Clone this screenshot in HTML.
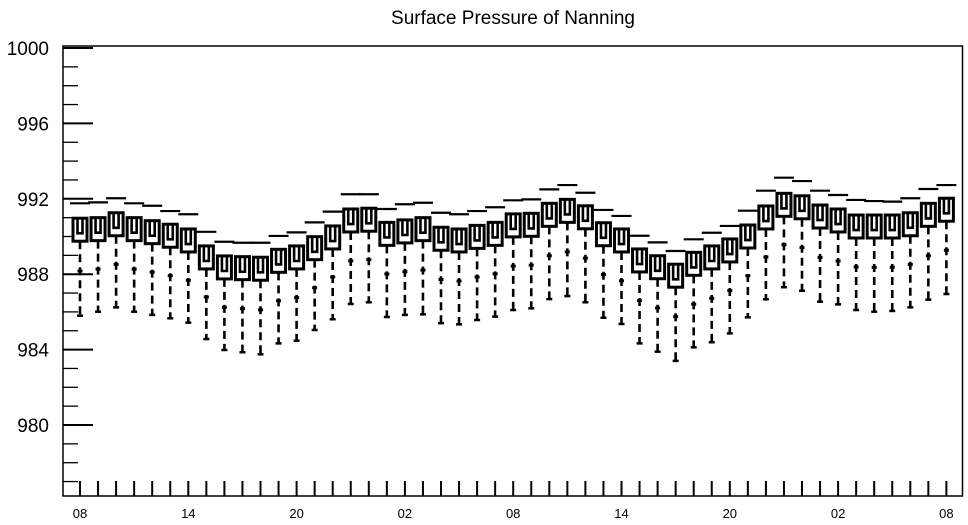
<!DOCTYPE html>
<html><head><meta charset="utf-8"><style>
html,body{margin:0;padding:0;background:#fff;}
svg{display:block;font-family:"Liberation Sans",Arial,sans-serif;}
</style></head><body>
<svg id="chart" width="968" height="525" viewBox="0 0 968 525" xmlns="http://www.w3.org/2000/svg">
<text x="513" y="24" text-anchor="middle" font-size="19">Surface Pressure of Nanning</text>
<g id="axes"></g>
<g id="boxes"></g>
<rect x="63" y="46" width="899.5" height="450" fill="none" stroke="#000" stroke-width="1.5"/>
</svg>
<script>
const hourLabels = ["08","09","10","11","12","13","14","15","16","17","18","19","20","21","22","23","00","01","02","03","04","05","06","07","08","09","10","11","12","13","14","15","16","17","18","19","20","21","22","23","00","01","02","03","04","05","06","07","08"];
const q3Values = [990.97,991.00,991.26,991.00,990.84,990.65,990.40,989.50,988.97,988.93,988.90,989.32,989.50,989.99,990.56,991.46,991.50,990.75,990.88,991.00,990.49,990.40,990.59,990.75,991.20,991.23,991.76,991.97,991.63,990.73,990.40,989.34,988.98,988.53,989.16,989.50,989.87,990.61,991.62,992.29,992.16,991.67,991.46,991.14,991.14,991.14,991.26,991.76,992.03];
const q1Values = [989.75,989.78,990.04,989.78,989.62,989.43,989.18,988.28,987.75,987.71,987.68,988.10,988.28,988.77,989.34,990.24,990.28,989.53,989.66,989.78,989.27,989.18,989.37,989.53,989.98,990.01,990.54,990.75,990.41,989.51,989.18,988.12,987.76,987.31,987.94,988.28,988.65,989.39,990.40,991.07,990.94,990.45,990.24,989.92,989.92,989.92,990.04,990.54,990.81];
const medianValues = [990.17,990.20,990.46,990.20,990.04,989.85,989.60,988.70,988.17,988.13,988.10,988.52,988.70,989.19,989.76,990.66,990.70,989.95,990.08,990.20,989.69,989.60,989.79,989.95,990.40,990.43,990.96,991.17,990.83,989.93,989.60,988.54,988.18,987.73,988.36,988.70,989.07,989.81,990.82,991.49,991.36,990.87,990.66,990.34,990.34,990.34,990.46,990.96,991.23];
const maxValues = [991.76,991.81,992.03,991.76,991.63,991.35,991.18,990.25,989.72,989.67,989.67,990.03,990.22,990.75,991.32,992.24,992.24,991.46,991.71,991.79,991.26,991.18,991.35,991.55,991.92,991.97,992.50,992.73,992.32,991.41,991.09,990.04,989.69,989.23,989.85,990.20,990.56,991.37,992.43,993.12,992.94,992.43,992.20,991.94,991.88,991.85,992.03,992.52,992.73];
const lowMarkValues = [988.17,988.27,988.52,988.27,988.11,987.92,987.68,986.79,986.24,986.17,986.11,986.59,986.76,987.28,987.85,988.71,988.77,988.01,988.13,988.22,987.72,987.64,987.85,988.02,988.43,988.48,988.98,989.19,988.85,987.98,987.65,986.60,986.21,985.75,986.41,986.72,987.13,987.92,988.91,989.57,989.41,988.89,988.70,988.39,988.36,988.37,988.52,988.98,989.27];
const minValues = [985.80,986.01,986.24,986.01,985.84,985.66,985.43,984.56,983.98,983.86,983.75,984.33,984.47,985.04,985.61,986.42,986.51,985.73,985.84,985.87,985.40,985.34,985.57,985.75,986.10,986.19,986.68,986.84,986.51,985.69,985.36,984.33,983.89,983.40,984.12,984.39,984.86,985.71,986.67,987.31,987.12,986.54,986.40,986.10,986.01,986.05,986.24,986.65,986.95];
const yTickValues = [980,984,988,992,996,1000];

const NS = "http://www.w3.org/2000/svg";
function yScale(v){ return 48 + (1000 - v) * 18.85; }
function xScale(i){ return 80 + i * 18.05; }
function mk(tag, attrs, parent){
  const e = document.createElementNS(NS, tag);
  for (const k in attrs) e.setAttribute(k, attrs[k]);
  parent.appendChild(e);
  return e;
}
const axes = document.getElementById('axes');
const boxes = document.getElementById('boxes');

for (let v = 977; v <= 1000; v++) {
  const y = yScale(v);
  const major = yTickValues.indexOf(v) >= 0;
  const t = mk('line', {x1:63, x2: major ? 93 : 78, y1:y, y2:y, stroke:'#000', 'stroke-width': major ? 2 : 1.3}, axes);
  
  
  if (major) {
    const lb = mk('text', {x:49, y:y+7, 'text-anchor':'end', 'font-size':19}, axes);
    lb.textContent = String(v);
    
    
  }
}
hourLabels.forEach((h, i) => {
  const x = xScale(i);
  const t = mk('line', {x1:x, x2:x, y1:496, y2:481, stroke:'#000', 'stroke-width':2}, axes);
  
  
  if (i % 6 === 0) {
    const lb = mk('text', {x:x, y:518, 'text-anchor':'middle', 'font-size':13}, axes);
    lb.textContent = h;
    
    
  }
});
q3Values.forEach((q3, i) => {
  const x = xScale(i);
  const yTop = yScale(q3), yBot = yScale(q1Values[i]), yMed = yScale(medianValues[i]);
  const yMax = yScale(maxValues[i]), yMin = yScale(minValues[i]), yLow = yScale(lowMarkValues[i]);
  const g = mk('g', {}, boxes);
  
  
  const mx = mk('line', {x1:x-10, x2:x+10, y1:yMax, y2:yMax, stroke:'#000', 'stroke-width':2.2}, g);
  
  
  const wh = mk('line', {x1:x, x2:x, y1:yBot, y2:yMin, stroke:'#000', 'stroke-width':2.6, 'stroke-dasharray':'8 5'}, g);
  
  
  const lm = mk('line', {x1:x-2.5, x2:x+2.5, y1:yLow, y2:yLow, stroke:'#000', 'stroke-width':3}, g);
  
  
  const mn = mk('line', {x1:x-3, x2:x+3, y1:yMin, y2:yMin, stroke:'#000', 'stroke-width':2.5}, g);
  
  
  const r = mk('rect', {x:x-7, y:yTop, width:14, height:yBot-yTop, fill:'#fff', stroke:'#000', 'stroke-width':3}, g);
  
  
  const u = mk('path', {d:'M'+(x-2.5)+','+yTop+' V'+yMed+' H'+(x+2.5)+' V'+yTop, fill:'none', stroke:'#000', 'stroke-width':2.6}, g);
  
  
});
</script>
</body></html>
